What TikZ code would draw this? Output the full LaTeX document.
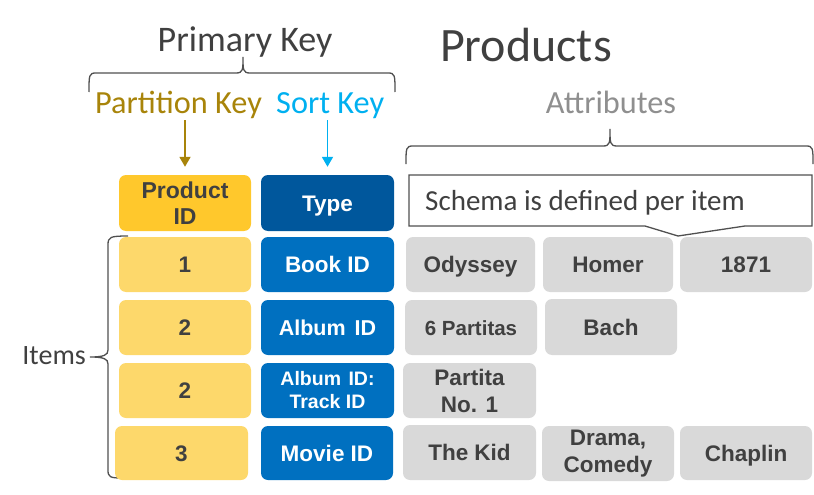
\documentclass[tikz,border=0pt]{standalone}
\usepackage{fontspec}
\setmainfont{Liberation Sans}
\newfontfamily\calfont{Carlito}
\usetikzlibrary{arrows.meta}
\definecolor{pkhead}{HTML}{FFC82C}
\definecolor{pkcell}{HTML}{FDD86B}
\definecolor{skhead}{HTML}{00579C}
\definecolor{skcell}{HTML}{0070C0}
\definecolor{attr}{HTML}{D9D9D9}
\definecolor{dark}{HTML}{404040}
\definecolor{bracecol}{HTML}{505050}
\definecolor{pkcol}{HTML}{A8840A}
\definecolor{skcol}{HTML}{00B0F0}
\definecolor{attrtext}{HTML}{8F8F8F}
\tikzset{
  cell/.style={rounded corners=7pt, inner sep=0pt, align=center,
    font=\bfseries\fontsize{22.5}{27}\selectfont},
  one/.style={text height=16.1pt, text depth=0pt},
  small/.style={font=\bfseries\fontsize{20.5}{23}\selectfont},
  smaller/.style={font=\bfseries\fontsize{19.5}{23}\selectfont},
  pkh/.style={cell, fill=pkhead, text=dark, font=\bfseries\fontsize{23}{26}\selectfont},
  pkc/.style={cell, one, fill=pkcell, text=dark},
  skh/.style={cell, one, fill=skhead, text=white},
  skc/.style={cell, fill=skcell, text=white},
  atc/.style={cell, fill=attr, text=dark},
  bracestyle/.style={draw=bracecol, line width=1.3pt},
  keyarrow/.style={line width=1.8pt, -{Triangle[width=11pt,length=10pt]}, shorten <=2pt, shorten >=8pt},
  label/.style={inner sep=0pt, font=\calfont\fontsize{32.3}{34}\selectfont}
}
\newcommand{\cellat}[7]{\node[#1, minimum width=#4-#3, minimum height=#6-#5] (#2) at ({(#3+#4)/2},{(#5+#6)/2}) {#7};}
\begin{document}
\begin{tikzpicture}[x=1pt,y=-1pt]
\useasboundingbox (0,0) rectangle (814,495);

% titles
\node[inner sep=0pt, anchor=base, text=dark, font=\calfont\fontsize{48}{50}\selectfont] (title) at (526,62) {Products};
\node[label, anchor=base, text=dark, font=\calfont\fontsize{36}{40}\selectfont] (primary) at (245,52) {Primary Key};
\node[label, anchor=base west, text=pkcol] (pk) at (95,113) {Partition Key};
\node[label, anchor=base west, text=skcol] (sk) at (276,113) {Sort Key};
\node[label, anchor=base, text=attrtext] (attrl) at (611,113) {Attributes};
\node[inner sep=0pt, anchor=base east, text=dark, font=\calfont\fontsize{28}{30}\selectfont] (items) at (86,364) {Items};

% braces
\draw[bracestyle] (89,92) .. controls (89,75) and (89,73) .. (96,73) -- (236,73)
  .. controls (243,73) and (243,70) .. (243,57)
  .. controls (243,70) and (243,73) .. (250,73) -- (388,73)
  .. controls (395,73) and (395,75) .. (395,92);
\draw[bracestyle] (406,164) .. controls (406,148) and (406,146) .. (413,146) -- (603,146)
  .. controls (610,146) and (610,143) .. (610,129)
  .. controls (610,143) and (610,146) .. (617,146) -- (806,146)
  .. controls (813,146) and (813,148) .. (813,164);
\draw[bracestyle] (128,236) .. controls (110,236) and (108,237) .. (108,245) -- (108,350)
  .. controls (108,355) and (104,357) .. (90,357)
  .. controls (104,357) and (108,359) .. (108,364) -- (108,470)
  .. controls (108,477) and (110,478) .. (122,478);

% header cells
\cellat{pkh}{ph}{119}{251}{175}{231}{Product\\ID}
\cellat{skh}{sh}{261}{394}{175}{231}{Type}

% arrows
\draw[keyarrow, draw=pkcol, fill=pkcol] (pk.south -| ph.north) -- (ph.north);
\draw[keyarrow, draw=skcol, fill=skcol] (sk.south -| sh.north) -- (sh.north);

% callout
\draw[bracecol, line width=1.3pt, fill=white] (409,175) -- (812,175) -- (812,226) -- (745,226)
  -- (678,236) -- (645,226) -- (409,226) -- cycle;
\node[inner sep=0pt, anchor=base west, text=dark, font=\calfont\fontsize{29}{30}\selectfont] (schema) at (425,210) {Schema is defined per item};

% row 1
\cellat{pkc}{p1}{119}{251}{237}{292}{1}
\cellat{skc,one}{s1}{261}{394}{237}{292}{Book ID}
\cellat{atc,one}{a11}{406}{535}{237}{292}{Odyssey}
\cellat{atc,one}{a12}{543}{673}{237}{292}{Homer}
\cellat{atc,one}{a13}{680}{812}{237}{292}{1871}
% row 2
\cellat{pkc}{p2}{119}{251}{300}{355}{2}
\cellat{skc,one,font=\bfseries\fontsize{21.5}{26}\selectfont}{s2}{261}{394}{300}{355}{Album\hspace{3pt} ID}
\cellat{atc,small,one}{a21}{405}{537}{300}{355}{6 Partitas}
\cellat{atc,one}{a22}{545}{677}{299}{355}{Bach}
% row 3
\cellat{pkc}{p3}{119}{251}{363}{418}{2}
\cellat{skc,smaller}{s3}{261}{394}{363}{418}{Album\hspace{2pt} ID:\\Track ID}
\cellat{atc}{a31}{403}{536}{363}{418}{Partita\\No. 1}
% row 4
\cellat{pkc}{p4}{115}{248}{426}{480}{3}
\cellat{skc,one}{s4}{261}{393}{426}{480}{Movie ID}
\cellat{atc,one}{a41}{403}{536}{425}{480}{The Kid}
\cellat{atc}{a42}{542}{674}{426}{481}{Drama,\\Comedy}
\cellat{atc,one}{a43}{680}{812}{426}{480}{Chaplin}
\end{tikzpicture}
\end{document}
